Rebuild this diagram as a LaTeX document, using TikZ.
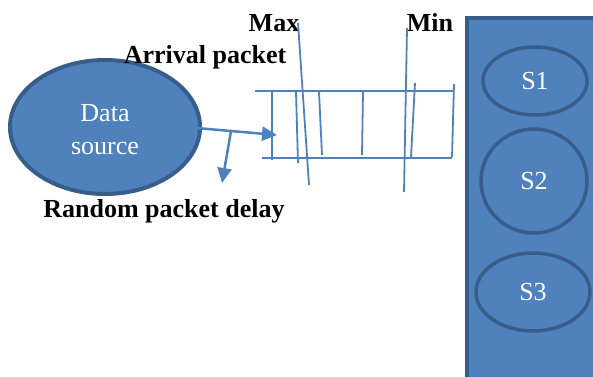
\documentclass[tikz,border=0pt]{standalone}
\usepackage{fontspec}
\setmainfont{Liberation Serif}
\usetikzlibrary{arrows.meta,positioning,shapes.geometric}
\definecolor{fillblue}{HTML}{4F81BD}
\definecolor{edgeblue}{HTML}{385D8A}
\tikzset{
  source/.style={ellipse,draw=edgeblue,line width=4pt,fill=fillblue,text=white,align=center,inner sep=0pt,font=\fontsize{26}{33}\selectfont},
  server/.style={ellipse,draw=edgeblue,line width=3.5pt,fill=fillblue,text=white,inner sep=0pt,font=\fontsize{26}{31}\selectfont},
  panel/.style={draw=edgeblue,line width=3.5pt,fill=fillblue},
  heading/.style={font=\bfseries\fontsize{26}{31}\selectfont,inner sep=0pt,anchor=base},
  slot/.style={draw=fillblue,line width=1.8pt},
  flow/.style={-{Triangle[length=15pt,width=14pt]},draw=fillblue,line width=2.5pt}
}
\begin{document}
\begin{tikzpicture}[x=1pt,y=-1pt]
\useasboundingbox (0,0) rectangle (593,376);
\clip (0,0) rectangle (593,376);
% servers
\draw[panel] (467,18) rectangle (620,400);
\node[server,minimum width=104pt,minimum height=68pt] (s1) at (535,81) {S1};
\node[server,minimum width=106pt,minimum height=104pt] (s2) at (534,181) {S2};
\node[server,minimum width=114pt,minimum height=78pt] (s3) at (533,292) {S3};
% source
\node[source,minimum width=190pt,minimum height=134pt] (src) at (105,127) {};
\node[text=white,align=center,inner sep=0pt,font=\fontsize{26}{33}\selectfont] (srctext) at (105,130) {Data\\source};
% labels
\node[heading] (max) at (274,31) {Max};
\node[heading] (min) at (430,31) {Min};
\node[heading] (arrival) at (205,63) {Arrival packet};
\node[heading] (delay) at (164,217) {Random packet delay};
% queue
\foreach \a/\b in {{(255,91)}/{(453,91)},{(262,158)}/{(452,158)},{(272,92)}/{(272,160)},
  {(296,92)}/{(298,163)},{(298,23)}/{(309,185)},{(319,92)}/{(322,155)},{(363,92)}/{(362,155)},
  {(407,28)}/{(404,192)},{(415,83)}/{(411,157)},{(454,84)}/{(452,157)}}
  \draw[slot] \a -- \b;
% arrows
\coordinate (qin) at (277,135);
\coordinate (lag) at (222,183);
\draw[flow] ([xshift=-17pt]src.east) -- coordinate (split) (qin);
\draw[flow] (split) -- (lag);
\end{tikzpicture}
\end{document}
